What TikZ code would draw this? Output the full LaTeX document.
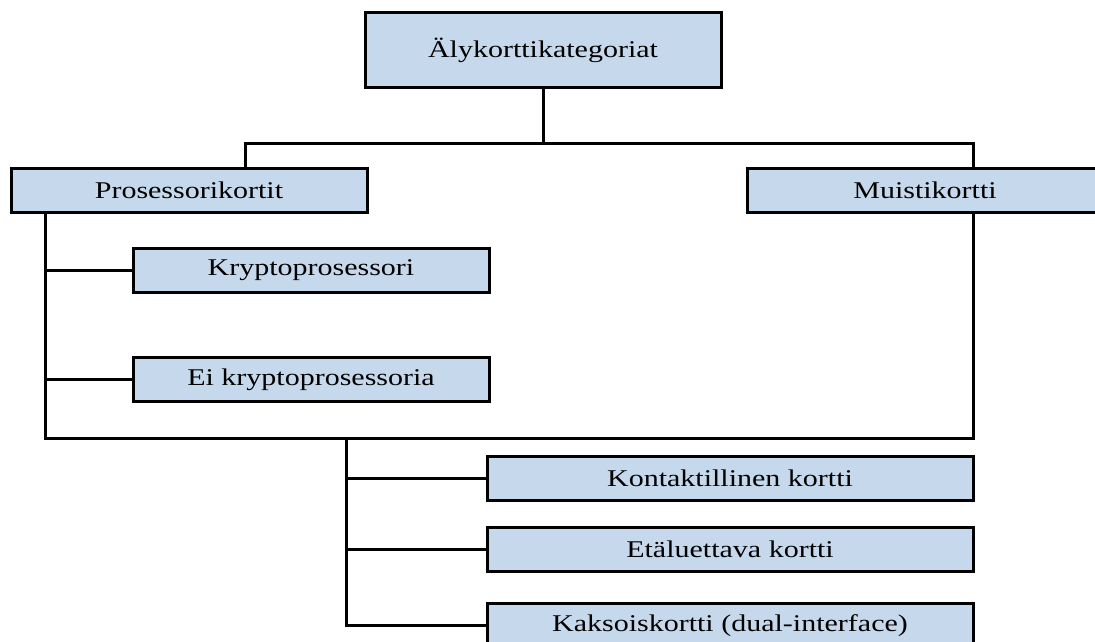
\documentclass[tikz,border=0pt]{standalone}
\usepackage{fontspec}
\setmainfont{Liberation Serif}[FakeStretch=1.25]
\begin{document}
\begin{tikzpicture}[x=1pt,y=-1pt,
  card/.style={draw=black, fill=cardblue, line width=3pt, inner sep=0pt,
    minimum height=44pt, minimum width=356pt, align=center,
    font=\fontsize{24}{28}\selectfont},
  link/.style={draw=black, line width=3pt}]
\definecolor{cardblue}{RGB}{198,217,236}
\useasboundingbox (0,0) rectangle (1095,642);

% category boxes
\node[card, minimum height=74pt] (top) at (543,50) {Älykorttikategoriat};
\node[card] (proc) at (189,190) {Prosessorikortit};
\node[card] (muisti) at (925,190) {Muistikortti};
\node[card] (krypto) at (311,270) {Kryptoprosessori};
\node[card] (ei) at (311,379.5) {Ei kryptoprosessoria};
\node[card, minimum width=486pt] (kontakt) at (730,478.5) {Kontaktillinen kortti};
\node[card, minimum width=486pt] (eta) at (730,549.5) {Etäluettava kortti};
\node[card, minimum width=486pt] (kaksois) at (730,625.5) {Kaksoiskortti (dual-interface)};

% junction points of the tree
\coordinate (j1) at (245,143);
\coordinate (j2) at (973,143);
\coordinate (c1) at (45,438);
\coordinate (c2) at (973,438);
\coordinate (c3) at (346,438);

% connectors
\draw[link] (top.south) -- (top.south |- j1);
\draw[link] (proc.north -| j1) -- (j1) -- (j2) -- (muisti.north -| j2);
\draw[link] (proc.south -| c1) -- (c1) -- (c2) -- (muisti.south -| c2);
\draw[link] (krypto.west -| c1) -- (krypto.west);
\draw[link] (ei.west -| c1) -- (ei.west);
\draw[link] (c3) -- (kaksois.west -| c3) -- (kaksois.west);
\draw[link] (kontakt.west -| c3) -- (kontakt.west);
\draw[link] (eta.west -| c3) -- (eta.west);
\end{tikzpicture}
\end{document}
